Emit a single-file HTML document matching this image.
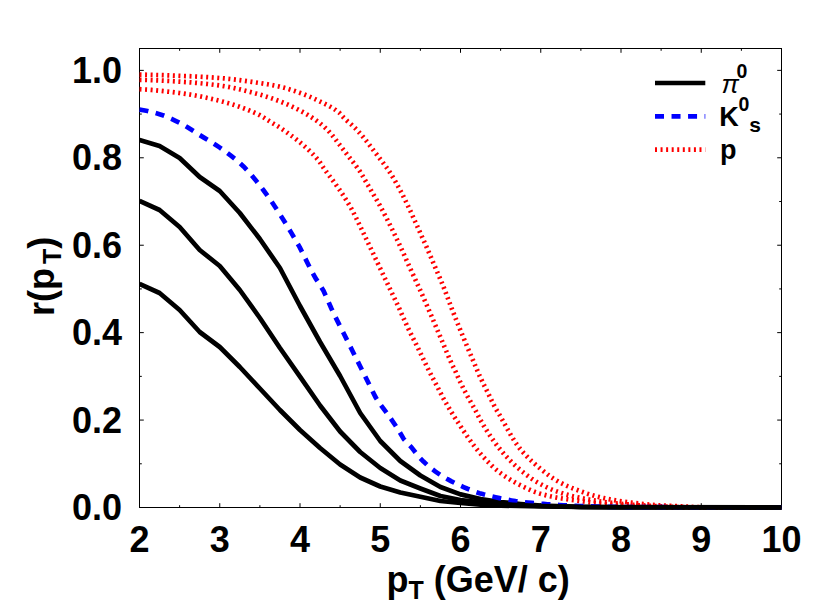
<!DOCTYPE html>
<html><head><meta charset="utf-8"><title>r(pT)</title>
<style>html,body{margin:0;padding:0;background:#fff;}svg{display:block;}</style></head><body>
<svg width="830" height="601" viewBox="0 0 830 601">
<desc>Line chart: r(pT) versus pT (GeV/ c), x axis 2 to 10, y axis 0.0 to 1.0. Legend: solid black pi0, dashed blue K0s, dotted red p.</desc>
<rect x="0" y="0" width="830" height="601" fill="#fff"/>
<defs><clipPath id="c"><rect x="139.2" y="48.5" width="642.8" height="461.5"/></clipPath></defs>
<rect x="139.5" y="48.5" width="642" height="459" fill="none" stroke="#000" stroke-width="1"/>
<path d="M139.5,507.5v-4.3M139.5,48.5v4.3M179.62,507.5v-2.3M179.62,48.5v2.3M219.75,507.5v-4.3M219.75,48.5v4.3M259.88,507.5v-2.3M259.88,48.5v2.3M300,507.5v-4.3M300,48.5v4.3M340.12,507.5v-2.3M340.12,48.5v2.3M380.25,507.5v-4.3M380.25,48.5v4.3M420.38,507.5v-2.3M420.38,48.5v2.3M460.5,507.5v-4.3M460.5,48.5v4.3M500.62,507.5v-2.3M500.62,48.5v2.3M540.75,507.5v-4.3M540.75,48.5v4.3M580.88,507.5v-2.3M580.88,48.5v2.3M621,507.5v-4.3M621,48.5v4.3M661.12,507.5v-2.3M661.12,48.5v2.3M701.25,507.5v-4.3M701.25,48.5v4.3M741.38,507.5v-2.3M741.38,48.5v2.3M781.5,507.5v-4.3M781.5,48.5v4.3M139.5,507.5h4.3M781.5,507.5h-4.3M139.5,463.79h2.3M781.5,463.79h-2.3M139.5,420.07h4.3M781.5,420.07h-4.3M139.5,376.36h2.3M781.5,376.36h-2.3M139.5,332.64h4.3M781.5,332.64h-4.3M139.5,288.93h2.3M781.5,288.93h-2.3M139.5,245.22h4.3M781.5,245.22h-4.3M139.5,201.5h2.3M781.5,201.5h-2.3M139.5,157.79h4.3M781.5,157.79h-4.3M139.5,114.07h2.3M781.5,114.07h-2.3M139.5,70.36h4.3M781.5,70.36h-4.3" stroke="#000" stroke-width="1" fill="none"/>
<g fill="none" stroke-linejoin="round" clip-path="url(#c)">
<path d="M139.5,74.6L143.5,74.68L147.5,74.76L151.5,74.86L155.5,74.97L159.5,75.09L163.5,75.22L167.5,75.36L171.5,75.5L175.5,75.65L179.5,75.8L183.5,75.96L187.5,76.13L191.5,76.31L195.5,76.5L199.5,76.71L203.5,76.93L207.5,77.17L211.5,77.43L215.5,77.7L219.5,78L223.5,78.33L227.5,78.72L231.5,79.15L235.5,79.62L239.5,80.13L243.5,80.67L247.5,81.23L251.5,81.81L255.5,82.4L259.5,83L263.5,83.62L267.5,84.27L271.5,84.97L275.5,85.75L279.5,86.61L283.5,87.6L287.5,88.73L291.5,89.97L295.5,91.29L299.5,92.68L303.5,94.16L307.5,95.77L311.5,97.5L315.5,99.32L319.5,101.24L323.5,103.17L327.5,105.17L331.5,107.36L335.5,109.89L339.5,112.94L343.5,117.48L347.5,121.23L351.5,124.67L355.5,128.51L359.5,132.8L363.5,137.41L367.5,142.39L371.5,147.7L375.5,152.95L379.5,158.12L383.5,163.34L387.5,168.73L391.5,174.95L395.5,181.73L399.5,188.92L403.5,196.64L407.5,204.85L411.5,213.41L415.5,222.39L419.5,231.32L423.5,240.14L427.5,249.15L431.5,258.52L435.5,268L439.5,277.26L443.5,286.76L447.5,297.24L451.5,308L455.5,318.12L459.5,328L463.5,337.79L467.5,347.42L471.5,356.76L475.5,366.2L479.5,375.64L483.5,383.98L487.5,391.98L491.5,400.3L495.5,408.19L499.5,414.85L503.5,421.91L507.5,429.16L511.5,436.2L515.5,442.65L519.5,448.12L523.5,452.81L527.5,457.04L531.5,460.91L535.5,464.51L539.5,467.92L543.5,471.22L547.5,474.36L551.5,477.3L555.5,479.95L559.5,482.27L563.5,484.31L567.5,486.15L571.5,487.83L575.5,489.4L579.5,490.88L583.5,492.31L587.5,493.67L591.5,494.93L595.5,496.09L599.5,497.12L603.5,498.06L607.5,498.92L611.5,499.71L615.5,500.43L619.5,501.08L623.5,501.66L627.5,502.19L631.5,502.67L635.5,503.13L639.5,503.55L643.5,503.97L647.5,504.36L651.5,504.73L655.5,505.06L659.5,505.33L663.5,505.56L667.5,505.75L671.5,505.93L675.5,506.1L679.5,506.28L683.5,506.47L687.5,506.68L691.5,506.88L695.5,507.06L699.5,507.19L703.5,507.28L707.5,507.36L711.5,507.43L715.5,507.48L719.5,507.5L723.5,507.5L727.5,507.5L731.5,507.5L735.5,507.5L739.5,507.5L743.5,507.5L747.5,507.5L751.5,507.5L755.5,507.5L759.5,507.5L763.5,507.5L767.5,507.5L771.5,507.5L775.5,507.5L779.5,507.5L781.5,507.5" stroke="#ff0000" stroke-width="4.7" stroke-dasharray="2 3.56"/>
<path d="M139.5,79.8L143.5,79.89L147.5,80L151.5,80.14L155.5,80.31L159.5,80.49L163.5,80.68L167.5,80.9L171.5,81.12L175.5,81.36L179.5,81.6L183.5,81.86L187.5,82.15L191.5,82.46L195.5,82.81L199.5,83.18L203.5,83.58L207.5,84.01L211.5,84.48L215.5,84.97L219.5,85.5L223.5,86.09L227.5,86.78L231.5,87.55L235.5,88.4L239.5,89.31L243.5,90.27L247.5,91.28L251.5,92.33L255.5,93.41L259.5,94.5L263.5,95.65L267.5,96.91L271.5,98.26L275.5,99.69L279.5,101.19L283.5,102.79L287.5,104.48L291.5,106.29L295.5,108.22L299.5,110.26L303.5,112.44L307.5,114.76L311.5,117.26L315.5,119.96L319.5,122.88L323.5,126.19L327.5,129.96L331.5,134.33L335.5,139.43L339.5,144.64L343.5,149.82L347.5,155.05L351.5,160.17L355.5,165.19L359.5,170.75L363.5,177.34L367.5,184.41L371.5,191.2L375.5,197.9L379.5,204.9L383.5,212.32L387.5,220.04L391.5,228L395.5,236.24L399.5,244.76L403.5,253.49L407.5,262.45L411.5,271.28L415.5,279.91L419.5,288.67L423.5,297.67L427.5,306.84L431.5,316.19L435.5,325.64L439.5,335.05L443.5,344.46L447.5,354.03L451.5,363.35L455.5,371.44L459.5,380.51L463.5,388.69L467.5,396.32L471.5,403.41L475.5,410.38L479.5,418.39L483.5,425.27L487.5,431.77L491.5,437.85L495.5,443.48L499.5,448.62L503.5,453.36L507.5,457.78L511.5,461.89L515.5,465.7L519.5,469.23L523.5,472.55L527.5,475.69L531.5,478.6L535.5,481.24L539.5,483.57L543.5,485.68L547.5,487.61L551.5,489.37L555.5,490.96L559.5,492.37L563.5,493.64L567.5,494.79L571.5,495.85L575.5,496.82L579.5,497.71L583.5,498.54L587.5,499.31L591.5,500.02L595.5,500.67L599.5,501.27L603.5,501.82L607.5,502.34L611.5,502.81L615.5,503.25L619.5,503.65L623.5,504.02L627.5,504.36L631.5,504.68L635.5,504.97L639.5,505.23L643.5,505.47L647.5,505.69L651.5,505.9L655.5,506.09L659.5,506.28L663.5,506.46L667.5,506.64L671.5,506.81L675.5,506.96L679.5,507.09L683.5,507.2L687.5,507.3L691.5,507.4L695.5,507.47L699.5,507.5L703.5,507.5L707.5,507.5L711.5,507.5L715.5,507.5L719.5,507.5L723.5,507.5L727.5,507.5L731.5,507.5L735.5,507.5L739.5,507.5L743.5,507.5L747.5,507.5L751.5,507.5L755.5,507.5L759.5,507.5L763.5,507.5L767.5,507.5L771.5,507.5L775.5,507.5L779.5,507.5L781.5,507.5" stroke="#ff0000" stroke-width="4.7" stroke-dasharray="2 3.56"/>
<path d="M139.5,89.2L143.5,89.41L147.5,89.66L151.5,89.96L155.5,90.31L159.5,90.69L163.5,91.1L167.5,91.54L171.5,92.01L175.5,92.5L179.5,93L183.5,93.54L187.5,94.14L191.5,94.8L195.5,95.51L199.5,96.28L203.5,97.1L207.5,97.96L211.5,98.86L215.5,99.81L219.5,100.8L223.5,101.84L227.5,102.95L231.5,104.13L235.5,105.4L239.5,106.75L243.5,108.19L247.5,109.73L251.5,111.38L255.5,113.13L259.5,115L263.5,117.34L267.5,120.04L271.5,122.5L275.5,124.84L279.5,127.33L283.5,130.05L287.5,132.91L291.5,135.8L295.5,138.73L299.5,141.92L303.5,145.31L307.5,148.87L311.5,152.7L315.5,156.91L319.5,161.64L323.5,167.75L327.5,173.39L331.5,178.68L335.5,184.07L339.5,189.73L343.5,195.72L347.5,202.04L351.5,208.9L355.5,216.63L359.5,224.9L363.5,233.19L367.5,241.65L371.5,250.11L375.5,258.53L379.5,266.95L383.5,275.37L387.5,283.79L391.5,292.19L395.5,300.55L399.5,309.09L403.5,318.06L407.5,326.94L411.5,335.13L415.5,342.99L419.5,351.1L423.5,359.53L427.5,367.8L431.5,375.62L435.5,383.22L439.5,390.93L443.5,398.64L447.5,405.63L451.5,412.28L455.5,418.63L459.5,424.76L463.5,430.79L467.5,436.7L471.5,442.38L475.5,447.71L479.5,452.58L483.5,457.13L487.5,461.45L491.5,465.47L495.5,469.13L499.5,472.38L503.5,475.29L507.5,477.94L511.5,480.38L515.5,482.64L519.5,484.76L523.5,486.79L527.5,488.73L531.5,490.53L535.5,492.12L539.5,493.45L543.5,494.6L547.5,495.62L551.5,496.54L555.5,497.36L559.5,498.09L563.5,498.73L567.5,499.29L571.5,499.82L575.5,500.33L579.5,500.87L583.5,501.44L587.5,502.02L591.5,502.58L595.5,503.1L599.5,503.55L603.5,503.95L607.5,504.32L611.5,504.66L615.5,504.96L619.5,505.23L623.5,505.48L627.5,505.7L631.5,505.9L635.5,506.09L639.5,506.28L643.5,506.46L647.5,506.64L651.5,506.81L655.5,506.96L659.5,507.09L663.5,507.2L667.5,507.3L671.5,507.4L675.5,507.47L679.5,507.5L683.5,507.5L687.5,507.5L691.5,507.5L695.5,507.5L699.5,507.5L703.5,507.5L707.5,507.5L711.5,507.5L715.5,507.5L719.5,507.5L723.5,507.5L727.5,507.5L731.5,507.5L735.5,507.5L739.5,507.5L743.5,507.5L747.5,507.5L751.5,507.5L755.5,507.5L759.5,507.5L763.5,507.5L767.5,507.5L771.5,507.5L775.5,507.5L779.5,507.5L781.5,507.5" stroke="#ff0000" stroke-width="4.7" stroke-dasharray="2 3.56"/>
<path d="M139.5,140L159.56,146L179.62,158L199.69,177L219.75,191L239.81,213L259.88,239L279.94,268L300,306L320.06,342L340.12,376L360.19,413L380.25,441L400.31,461L420.38,475.5L440.44,487L460.5,494.4L480.56,499L500.62,502L520.69,504L540.75,505.6L580.88,506.8L621,507.3L781.5,507.5" stroke="#000" stroke-width="4.7"/>
<path d="M139.5,109.6L143.5,110.21L147.5,111L151.5,111.95L155.5,113.01L159.5,114.17L163.5,115.5L167.5,117.08L171.5,118.85L175.5,120.76L179.5,122.75L183.5,124.91L187.5,127.3L191.5,129.84L195.5,132.41L199.5,134.94L203.5,137.38L207.5,139.79L211.5,142.23L215.5,144.73L219.5,147.36L223.5,150.14L227.5,153.08L231.5,156.18L235.5,159.39L239.5,162.76L243.5,166.48L247.5,170.66L251.5,175.14L255.5,179.91L259.5,184.94L263.5,190.22L267.5,195.74L271.5,201.49L275.5,207.44L279.5,213.6L283.5,219.94L287.5,226.45L291.5,233.12L295.5,239.93L299.5,246.89L303.5,254.84L307.5,262.98L311.5,270.82L315.5,278.16L319.5,284.14L323.5,290.8L327.5,299.53L331.5,308.75L335.5,317.14L339.5,325.12L343.5,333.01L347.5,341L351.5,349L355.5,357L359.5,365L363.5,373L367.5,381L371.5,389.19L375.5,397.14L379.5,403.33L383.5,408.66L387.5,413.9L391.5,419.61L395.5,425.51L399.5,431.85L403.5,438.68L407.5,443.23L411.5,447.34L415.5,452.51L419.5,457.53L423.5,461.56L427.5,465.22L431.5,468.54L435.5,471.57L439.5,474.33L443.5,476.86L447.5,479.19L451.5,481.34L455.5,483.34L459.5,485.23L463.5,487.04L467.5,488.77L471.5,490.38L475.5,491.85L479.5,493.15L483.5,494.31L487.5,495.37L491.5,496.35L495.5,497.25L499.5,498.1L503.5,498.93L507.5,499.72L511.5,500.45L515.5,501.11L519.5,501.66L523.5,502.14L527.5,502.57L531.5,502.95L535.5,503.31L539.5,503.64L543.5,503.96L547.5,504.25L551.5,504.53L555.5,504.79L559.5,505.03L563.5,505.26L567.5,505.48L571.5,505.69L575.5,505.87L579.5,506.02L583.5,506.15L587.5,506.29L591.5,506.41L595.5,506.54L599.5,506.65L603.5,506.75L607.5,506.84L611.5,506.91L615.5,506.96L619.5,507L623.5,507.02L627.5,507.04L631.5,507.06L635.5,507.08L639.5,507.1L643.5,507.11L647.5,507.13L651.5,507.15L655.5,507.17L659.5,507.18L663.5,507.2L667.5,507.21L671.5,507.22L675.5,507.24L679.5,507.25L683.5,507.26L687.5,507.27L691.5,507.28L695.5,507.3L699.5,507.31L703.5,507.31L707.5,507.32L711.5,507.33L715.5,507.34L719.5,507.35L723.5,507.35L727.5,507.36L731.5,507.37L735.5,507.37L739.5,507.38L743.5,507.38L747.5,507.38L751.5,507.39L755.5,507.39L759.5,507.39L763.5,507.4L767.5,507.4L771.5,507.4L775.5,507.4L779.5,507.4L781.5,507.4" stroke="#0000ff" stroke-width="4.7" stroke-dasharray="9 7.53"/>
<path d="M139.5,201L159.56,210L179.62,227L199.69,250L219.75,266L239.81,290L259.88,318L279.94,348L300,376.6L320.06,405.5L340.12,431.5L360.19,452L380.25,468L400.31,480.5L420.38,488.5L440.44,496L460.5,500L480.56,502.4L500.62,504.4L540.75,506L580.88,507L781.5,507.5" stroke="#000" stroke-width="4.7"/>
<path d="M139.5,284L159.56,293L179.62,310L199.69,332L219.75,347L239.81,367L259.88,388.5L279.94,410L300,430L320.06,448L340.12,464.5L360.19,477.5L380.25,486.5L400.31,492.5L420.38,496.7L440.44,501L460.5,503L480.56,504.6L500.62,505.6L540.75,506.5L580.88,507L781.5,507.5" stroke="#000" stroke-width="4.7"/>
</g>
<g font-family="'Liberation Sans', sans-serif" font-weight="bold" font-size="36" fill="#000">
<g text-anchor="middle">
<text x="139.5" y="551.5">2</text>
<text x="219.75" y="551.5">3</text>
<text x="300" y="551.5">4</text>
<text x="380.25" y="551.5">5</text>
<text x="460.5" y="551.5">6</text>
<text x="540.75" y="551.5">7</text>
<text x="621" y="551.5">8</text>
<text x="701.25" y="551.5">9</text>
<text x="781.5" y="551.5">10</text>
</g>
<g text-anchor="end">
<text x="122" y="520.2">0.0</text>
<text x="122" y="432.77">0.2</text>
<text x="122" y="345.34">0.4</text>
<text x="122" y="257.92">0.6</text>
<text x="122" y="170.49">0.8</text>
<text x="122" y="83.06">1.0</text>
</g>
<text x="386.5" y="591.6">p<tspan font-size="25" dy="7.1">T</tspan><tspan dy="-7.1"> (GeV/ c)</tspan></text>
<text transform="translate(53.8,316.0) rotate(-90)" x="0" y="0">r(p<tspan font-size="25" dx="4" dy="7">T</tspan><tspan dy="-7">)</tspan></text>
</g>
<path d="M655,83H705.3" stroke="#000" stroke-width="4.7"/>
<path d="M655,116.4H705.3" stroke="#0000ff" stroke-width="4.7" stroke-dasharray="9 7.53"/>
<path d="M655,149.6H705.3" stroke="#ff0000" stroke-width="4.7" stroke-dasharray="2 3.56"/>
<g font-family="'Liberation Sans', sans-serif" font-weight="bold" fill="#000">
<text x="721.5" y="93.4" font-size="26" font-style="italic" font-weight="normal">π</text>
<text x="736.5" y="77.6" font-size="19.5">0</text>
<text x="719.2" y="125.9" font-size="27">K</text>
<text x="738.6" y="110.9" font-size="19.5">0</text>
<text x="749.3" y="132.3" font-size="21">s</text>
<text x="719.9" y="159.1" font-size="27">p</text>
</g>
</svg></body></html>
